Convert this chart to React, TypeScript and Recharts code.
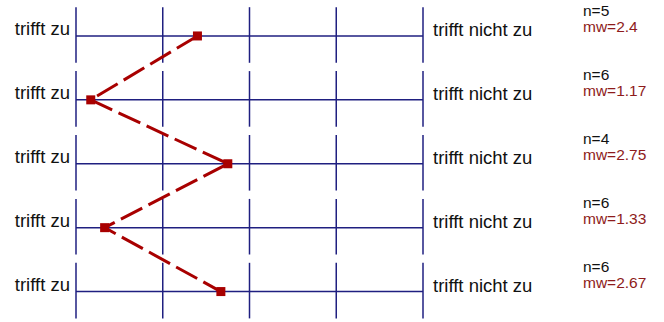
import React from 'react';
import { LineChart, Line, XAxis, YAxis, ReferenceLine } from 'recharts';

const rows = [1, 2, 3, 4, 5];
const scaleTicks = [1, 2, 3, 4, 5];
const nValues = [5, 6, 4, 6, 6];
const mwValues = [2.4, 1.17, 2.75, 1.33, 2.67];
const leftLabel = 'trifft zu';
const rightLabel = 'trifft nicht zu';

const data = rows.map((r, i) => ({ row: r, mw: mwValues[i], n: nValues[i] }));

const GRID = '#1f1f80';
const RED = '#a80000';
const MW_TEXT = '#8e1b1b';
const FONT = '"Liberation Sans", Arial, sans-serif';
const yDomain: [number, number] = [0.5, 5.445];

// one tick draws the row's left label, right label and the n / mw stats
const RowTick = (props: any) => {
    const { y, payload } = props;
    const i = rows.indexOf(payload.value);
    return (
        <g>
            <text x={70} y={y - 1} textAnchor="end" fontSize={18.5} fontFamily={FONT} fill="#111">
                {leftLabel}
            </text>
            <text x={433} y={y} fontSize={18.5} fontFamily={FONT} fill="#111">
                {rightLabel}
            </text>
            <text x={583} y={y - 20} fontSize={15.5} fontFamily={FONT} fill="#111">
                {`n=${nValues[i]}`}
            </text>
            <text x={583} y={y - 4} fontSize={15.5} fontFamily={FONT} fill={MW_TEXT}>
                {`mw=${mwValues[i]}`}
            </text>
        </g>
    );
};

const SquareDot = (props: any) => {
    const { cx, cy, index } = props;
    if (cx == null || cy == null) return null;
    return <rect key={`dot-${index}`} x={cx - 4.5} y={cy - 4.5} width={9} height={9} fill={RED} />;
};

export default function App() {
    return (
        <div style={{ position: 'absolute', left: 0, top: 0, width: 664, height: 322, background: '#fff' }}>
            <LineChart width={664} height={322} data={data} margin={{ top: 4, right: 241, bottom: 2, left: 0 }}>
                <XAxis dataKey="mw" type="number" domain={[1, 5]} ticks={scaleTicks} hide />
                <YAxis
                    type="number"
                    domain={yDomain}
                    ticks={rows}
                    reversed
                    width={76}
                    axisLine={false}
                    tickLine={false}
                    tick={<RowTick />}
                    interval={0}
                />
                {rows.map((r) => (
                    <ReferenceLine key={`h-${r}`} y={r} stroke={GRID} strokeWidth={1.5} />
                ))}
                {rows.map((r) =>
                    scaleTicks.map((v) => (
                        <ReferenceLine
                            key={`v-${r}-${v}`}
                            segment={[{ x: v, y: r - 0.45 }, { x: v, y: r + 0.42 }]}
                            stroke={GRID}
                            strokeWidth={1.5}
                        />
                    ))
                )}
                <Line
                    dataKey="row"
                    stroke={RED}
                    strokeWidth={3}
                    strokeDasharray="24 7"
                    dot={<SquareDot />}
                    activeDot={false}
                    isAnimationActive={false}
                />
            </LineChart>
        </div>
    );
}
